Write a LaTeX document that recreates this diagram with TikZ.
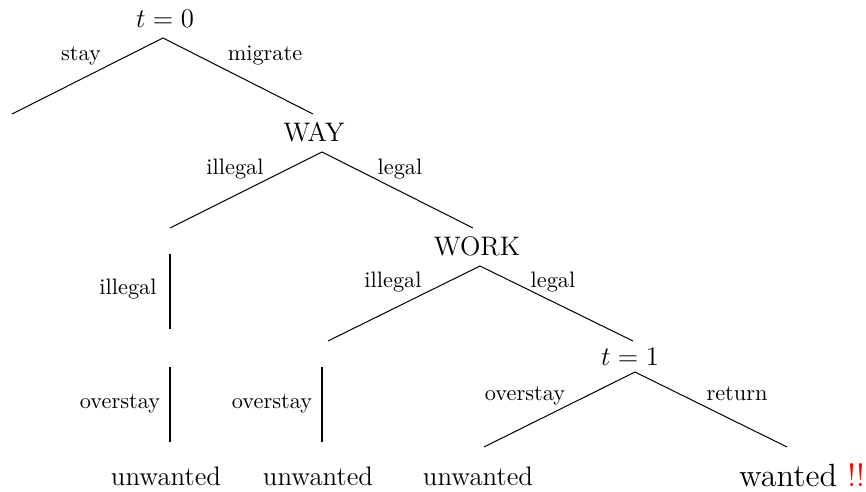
\documentclass[tikz,border=0pt]{standalone}
\usepackage{xcolor}
\begin{document}
\begin{tikzpicture}[x=0.448pt,y=-0.448pt,
  edge/.style={line width=0.45pt},
  lbl/.style={inner sep=0pt,anchor=base,font=\normalsize},
  big/.style={inner sep=0pt,anchor=base,font=\large}]
\useasboundingbox (0,0) rectangle (866,492);
% text nodes
\node[big] (t0) at (165,28) {$t=0$};
\node[big] (way) at (314,142) {WAY};
\node[big] (work) at (477,256) {WORK};
\node[big] (t1) at (630,366) {$t=1$};
\node[big] (u1) at (166,486) {unwanted};
\node[big] (u2) at (318,486) {unwanted};
\node[big] (u3) at (478,486) {unwanted};
\node[big,font=\Large] (w) at (802,487) {wanted \textcolor{red}{!!}};
% branch points
\coordinate (a0) at (163,38);
\coordinate (s0) at (12,114);
\coordinate (m0) at (313,114);
\coordinate (a1) at (322,152);
\coordinate (l1) at (170,228);
\coordinate (r1) at (473,228);
\coordinate (a2) at (480,266);
\coordinate (l2) at (328,341);
\coordinate (r2) at (633,341);
\coordinate (a3) at (635,372);
\coordinate (l3) at (484,447);
\coordinate (r3) at (787,447);
\coordinate (v1a) at (170,254);
\coordinate (v1b) at (170,329);
\coordinate (v2a) at (170,367);
\coordinate (v2b) at (170,442);
\coordinate (v3a) at (322,367);
\coordinate (v3b) at (322,442);
% edges
\draw[edge] (s0) -- (a0) -- (m0);
\draw[edge] (l1) -- (a1) -- (r1);
\draw[edge] (l2) -- (a2) -- (r2);
\draw[edge] (l3) -- (a3) -- (r3);
\draw[edge] (v1a) -- (v1b);
\draw[edge] (v2a) -- (v2b);
\draw[edge] (v3a) -- (v3b);
% edge labels
\node[lbl] (ls) at (81,61) {stay};
\node[lbl] (lm) at (265,61) {migrate};
\node[lbl] (li1) at (235,175) {illegal};
\node[lbl] (lg1) at (400,175) {legal};
\node[lbl] (li2) at (393,288) {illegal};
\node[lbl] (lg2) at (553,288) {legal};
\node[lbl] (lo3) at (525,401) {overstay};
\node[lbl] (lr3) at (737,401) {return};
\node[lbl] (lv1) at (128,295) {illegal};
\node[lbl] (lv2) at (120,409) {overstay};
\node[lbl] (lv3) at (272,409) {overstay};
\end{tikzpicture}
\end{document}
